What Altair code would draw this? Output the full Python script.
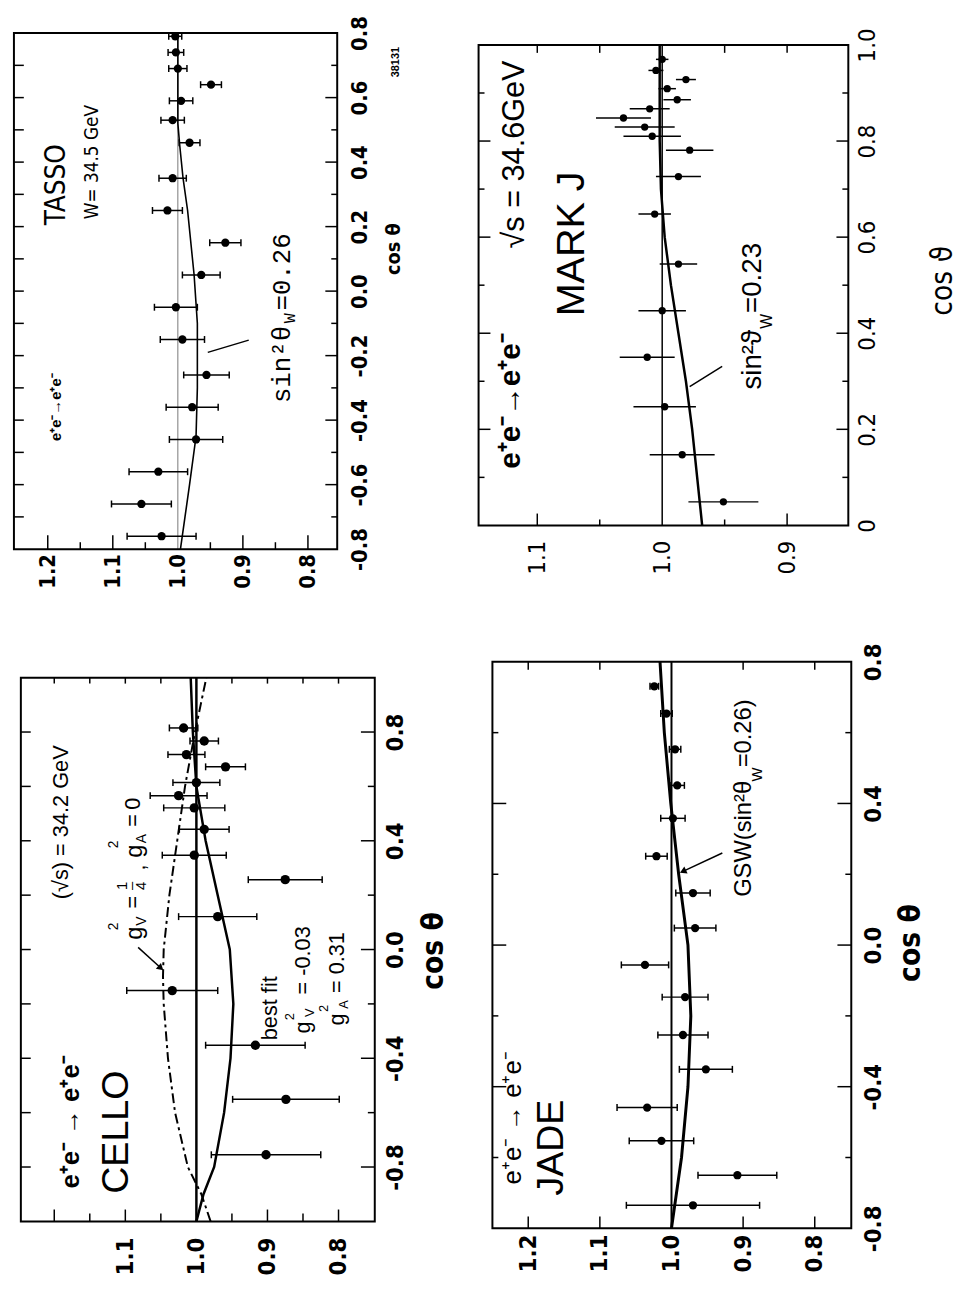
import altair as alt
import pandas as pd

NARROW = "Liberation Sans Narrow, DejaVu Sans Condensed, Liberation Sans, sans-serif"
SANS = "Liberation Sans, Arial, Helvetica, sans-serif"
MONO = "Liberation Mono, DejaVu Sans Mono, monospace"
FONTS = {"N": NARROW, "S": SANS, "M": MONO}

# ---------------- TASSO (W = 34.5 GeV) ----------------
tasso_cos = [-0.76, -0.66, -0.56, -0.46, -0.36, -0.26, -0.15, -0.05, 0.05, 0.15,
             0.25, 0.35, 0.46, 0.53, 0.59, 0.64, 0.69, 0.74, 0.79]
tasso_val = [1.025, 1.056, 1.030, 0.972, 0.978, 0.956, 0.993, 1.003, 0.964, 0.927,
             1.016, 1.008, 0.982, 1.008, 0.995, 0.949, 1.000, 1.003, 1.004]
tasso_err = [0.053, 0.046, 0.045, 0.041, 0.040, 0.035, 0.034, 0.033, 0.029, 0.024,
             0.023, 0.021, 0.016, 0.018, 0.018, 0.016, 0.014, 0.012, 0.010]
tasso_fit_cos = [-0.8, -0.7, -0.6, -0.45, -0.3, -0.1, 0.05, 0.25, 0.35, 0.45, 0.52, 0.8]
tasso_fit_val = [0.996, 0.989, 0.982, 0.972, 0.970, 0.970, 0.975, 0.985, 0.992, 0.997, 1.0, 1.0]
tasso_xlabels = [0.8, 0.9, 1.0, 1.1, 1.2]
tasso_ylabels = [-0.8, -0.6, -0.4, -0.2, 0.0, 0.2, 0.4, 0.6, 0.8]
tasso_texts = [
    ("TASSO", 1.186, 0.33, 28, "N", "normal"),
    ("W= 34.5 GeV", 1.132, 0.40, 19, "N", "normal"),
    ("e⁺e⁻→e⁺e⁻", 1.187, -0.36, 15, "S", "bold"),
    ("sin²θ =0.26", 0.84, -0.084, 26, "M", "normal"),
    ("W", 0.827, -0.084, 17, "M", "normal"),
    ("38131", 0.664, 0.71, 11, "S", "bold"),
]
tasso_pointers = [(0.954, -0.19, 0.891, -0.152)]

# ---------------- CELLO (sqrt s = 34.2 GeV) ----------------
cello_cos = [-0.755, -0.551, -0.352, -0.151, 0.121, 0.257, 0.347, 0.442, 0.521, 0.566,
             0.614, 0.672, 0.717, 0.767, 0.815]
cello_val = [0.902, 0.874, 0.917, 1.034, 0.970, 0.875, 1.003, 0.989, 1.003, 1.025,
             1.000, 0.959, 1.014, 0.989, 1.018]
cello_err = [0.077, 0.075, 0.070, 0.064, 0.055, 0.052, 0.045, 0.035, 0.043, 0.040,
             0.033, 0.028, 0.026, 0.020, 0.020]
cello_fit_cos = [-1.0, -0.9, -0.8, -0.6, -0.4, -0.2, 0.0, 0.2, 0.4, 0.6, 0.8, 1.0]
cello_fit_val = [1.0, 0.99, 0.975, 0.961, 0.952, 0.948, 0.953, 0.970, 0.987, 1.0, 1.005, 1.008]
cello_gv_cos = [-1.0, -0.9, -0.8, -0.6, -0.4, -0.2, -0.1, 0.0, 0.2, 0.4, 0.6, 0.8, 0.9, 1.0]
cello_gv_val = [0.98, 0.993, 1.012, 1.030, 1.040, 1.046, 1.047, 1.046, 1.038, 1.027,
                1.016, 1.002, 0.994, 0.986]
cello_xlabels = [0.8, 0.9, 1.0, 1.1]
cello_ylabels = [-0.8, -0.4, 0.0, 0.4, 0.8]
cello_texts = [
    ("e⁺e⁻ → e⁺e⁻", 1.177, -0.634, 26, "S", "bold"),
    ("CELLO", 1.111, -0.672, 38, "S", "normal"),
    ("(√s) = 34.2 GeV", 1.19, 0.468, 22, "S", "normal"),
    ("g", 1.086, 0.060, 24, "S", "normal"),
    ("2", 1.116, 0.085, 14, "S", "normal"),
    ("V", 1.076, 0.104, 14, "S", "normal"),
    ("=", 1.089, 0.174, 22, "S", "normal"),
    ("1", 1.105, 0.234, 15, "S", "normal"),
    ("–", 1.092, 0.234, 15, "S", "normal"),
    ("4", 1.078, 0.234, 15, "S", "normal"),
    (",", 1.082, 0.302, 22, "S", "normal"),
    ("g", 1.086, 0.362, 24, "S", "normal"),
    ("2", 1.116, 0.387, 14, "S", "normal"),
    ("A", 1.076, 0.408, 14, "S", "normal"),
    ("=", 1.089, 0.475, 22, "S", "normal"),
    ("0", 1.089, 0.536, 22, "S", "normal"),
    ("best fit", 0.896, -0.216, 22, "S", "normal"),
    ("g", 0.850, -0.287, 22, "S", "normal"),
    ("2", 0.868, -0.247, 13, "S", "normal"),
    ("V", 0.840, -0.232, 13, "S", "normal"),
    ("= -0.03", 0.850, -0.040, 22, "S", "normal"),
    ("g", 0.802, -0.257, 22, "S", "normal"),
    ("2", 0.820, -0.217, 13, "S", "normal"),
    ("A", 0.792, -0.202, 13, "S", "normal"),
    ("= 0.31", 0.802, -0.048, 22, "S", "normal"),
]
cello_pointers = [(1.082, 0.008, 1.050, -0.068)]
cello_heads = [(1.050, -0.068, 132)]

# ---------------- JADE ----------------
jade_cos = [-0.735, -0.650, -0.553, -0.459, -0.351, -0.254, -0.147, -0.056, 0.048, 0.147,
            0.251, 0.358, 0.451, 0.553, 0.654, 0.731]
jade_val = [0.970, 0.908, 1.014, 1.034, 0.952, 0.984, 0.981, 1.037, 0.967, 0.970,
            1.021, 0.998, 0.992, 0.995, 1.007, 1.024]
jade_err = [0.093, 0.055, 0.045, 0.042, 0.037, 0.035, 0.032, 0.033, 0.029, 0.024,
            0.015, 0.017, 0.010, 0.008, 0.008, 0.006]
jade_fit_cos = [-0.8, -0.6, -0.4, -0.2, 0.0, 0.2, 0.4, 0.6, 0.8]
jade_fit_val = [1.0, 0.986, 0.977, 0.973, 0.977, 0.990, 1.001, 1.010, 1.016]
jade_xlabels = [0.8, 0.9, 1.0, 1.1, 1.2]
jade_ylabels = [-0.8, -0.4, 0.0, 0.4, 0.8]
jade_texts = [
    ("e⁺e⁻ → e⁺e⁻", 1.221, -0.488, 26, "S", "normal"),
    ("JADE", 1.166, -0.572, 38, "S", "normal"),
    ("GSW(sin²θ", 0.899, 0.300, 24, "S", "normal"),
    ("W", 0.880, 0.482, 15, "S", "normal"),
    ("=0.26)", 0.899, 0.598, 24, "S", "normal"),
]
jade_pointers = [(0.929, 0.26, 0.984, 0.208)]
jade_heads = [(0.984, 0.208, 245)]

# ---------------- MARK J (sqrt s = 34.6 GeV) ----------------
markj_cos = [0.049, 0.147, 0.247, 0.350, 0.447, 0.544, 0.648, 0.726, 0.781, 0.810,
             0.829, 0.848, 0.867, 0.886, 0.909, 0.928, 0.947, 0.970]
markj_val = [0.951, 0.984, 0.998, 1.012, 1.000, 0.987, 1.006, 0.987, 0.978, 1.008,
             1.014, 1.031, 1.010, 0.988, 0.996, 0.981, 1.005, 1.000]
markj_err = [0.028, 0.026, 0.025, 0.022, 0.019, 0.015, 0.013, 0.018, 0.019, 0.023,
             0.024, 0.022, 0.016, 0.011, 0.007, 0.008, 0.006, 0.005]
markj_fit_cos = [0.0, 0.1, 0.2, 0.3, 0.4, 0.5, 0.6, 0.7, 0.8, 0.9, 1.0]
markj_fit_val = [0.968, 0.972, 0.976, 0.981, 0.987, 0.993, 0.998, 1.001, 1.002, 1.002, 1.002]
markj_xlabels = [0.9, 1.0, 1.1]
markj_ylabels = [0.0, 0.2, 0.4, 0.6, 0.8, 1.0]
markj_texts = [
    ("e⁺e⁻→e⁺e⁻", 1.121, 0.259, 30, "S", "bold"),
    ("MARK J", 1.072, 0.586, 40, "S", "normal"),
    ("√s = 34.6GeV", 1.118, 0.772, 31, "S", "normal"),
    ("sin²ϑ", 0.927, 0.345, 28, "S", "normal"),
    ("W", 0.916, 0.425, 16, "S", "normal"),
    ("=0.23", 0.927, 0.515, 28, "S", "normal"),
]
markj_pointers = [(0.952, 0.331, 0.978, 0.289)]

NEG_FIX = "replace(format(datum.value, '.1f'), '\u2212', '-')"


def build(p):
    W, H = p["W"], p["H"]          # frame (plot box) size
    lo, to = p["loff"], p["toff"]  # empty margin left of / above the box inside the cell
    CW, CH = W + lo, H + to
    xs = alt.Scale(domain=p["xdom"], range=[CW, lo], nice=False, zero=False)
    ys = alt.Scale(domain=p["ydom"], range=[CH, to], nice=False, zero=False)

    xaxis = alt.Axis(orient="bottom", values=p["xlabels"], labelExpr="format(datum.value, '.1f')",
                     labelAngle=270, labelAlign="center", labelBaseline="middle",
                     labelPadding=p["xpad"], ticks=False, tickSize=0, domain=False, grid=False,
                     labelFont=NARROW, labelFontSize=p["lsize"], labelFontWeight=p["lweight"],
                     labelColor="black", labelFlush=False, labelOverlap=False, title=None)
    yaxis = alt.Axis(orient="right", values=p["ylabels"], labelExpr=p["yexpr"],
                     labelAngle=270, labelAlign="center", labelBaseline="middle",
                     labelPadding=p["ypad"], ticks=False, tickSize=0, domain=False, grid=False,
                     labelFont=NARROW, labelFontSize=p["lsize"], labelFontWeight=p["lweight"],
                     labelColor="black", labelFlush=False, labelOverlap=False,
                     title=p["title"], titleAngle=270, titleX=p["titleX"], titleY=p["titleY"],
                     titleAlign="center", titleBaseline="middle", titleFont=NARROW,
                     titleFontSize=p["tsize"], titleFontWeight=p["lweight"], titleColor="black")

    def X(f):
        return alt.X(f, type="quantitative", scale=xs, axis=xaxis)

    def Y(f):
        return alt.Y(f, type="quantitative", scale=ys, axis=yaxis)

    layers = []
    box = pd.DataFrame({"x0": [p["xdom"][0]], "x1": [p["xdom"][1]],
                        "y0": [p["ydom"][0]], "y1": [p["ydom"][1]], "one": [1.0]})
    layers.append(alt.Chart(box).mark_rule(color=p["refcolor"], strokeWidth=p["refwidth"])
                  .encode(x=X("one"), y=Y("y0"), y2="y1"))
    for cv in p["curves"]:
        df = pd.DataFrame({"c": cv["cos"], "v": cv["val"]})
        mk = dict(color="black", strokeWidth=cv["width"])
        if "dash" in cv:
            mk["strokeDash"] = cv["dash"]
        layers.append(alt.Chart(df).mark_line(**mk).encode(x=X("v"), y=Y("c"), order="c:Q"))

    pts = pd.DataFrame({"c": p["cos"], "v": p["val"], "e": p["err"]})
    pts["lo"] = pts["v"] - pts["e"]
    pts["hi"] = pts["v"] + pts["e"]
    layers.append(alt.Chart(pts).mark_rule(color="black", strokeWidth=1.5)
                  .encode(x=X("lo"), x2="hi", y=Y("c")))
    if p["caps"]:
        caps = pd.DataFrame({"c": list(p["cos"]) * 2, "x": list(pts["lo"]) + list(pts["hi"])})
        layers.append(alt.Chart(caps).mark_tick(orient="vertical", size=7, thickness=1.5,
                                                color="black", opacity=1)
                      .encode(x=X("x"), y=Y("c")))

    for edge, vals, L in p["ticks"]:
        df = pd.DataFrame({"t": vals})
        m = alt.Chart(df).mark_rule(color="black", strokeWidth=1.5)
        if edge == "bottom":
            m = m.encode(x=X("t"), y=alt.value(CH), y2=alt.value(CH - L))
        elif edge == "top":
            m = m.encode(x=X("t"), y=alt.value(to), y2=alt.value(to + L))
        elif edge == "left":
            m = m.encode(y=Y("t"), x=alt.value(lo), x2=alt.value(lo + L))
        else:
            m = m.encode(y=Y("t"), x=alt.value(CW), x2=alt.value(CW - L))
        layers.append(m)

    for (v1, c1, v2, c2) in p.get("pointers", []):
        df = pd.DataFrame({"v": [v1], "c": [c1], "v2": [v2], "c2": [c2]})
        layers.append(alt.Chart(df).mark_rule(color="black", strokeWidth=1.5)
                      .encode(x=X("v"), x2="v2", y=Y("c"), y2="c2"))
    for (v, c, ang) in p.get("heads", []):
        df = pd.DataFrame({"v": [v], "c": [c]})
        layers.append(alt.Chart(df).mark_point(shape="triangle-up", filled=True, color="black",
                                               opacity=1, size=60, angle=ang)
                      .encode(x=X("v"), y=Y("c")))

    for (t, v, c, size, fk, wt) in p["texts"]:
        df = pd.DataFrame({"t": [t], "v": [v], "c": [c]})
        layers.append(alt.Chart(df).mark_text(angle=270, align="center", baseline="middle",
                                              font=FONTS[fk], fontSize=size, fontWeight=wt,
                                              color="black")
                      .encode(x=X("v"), y=Y("c"), text="t:N"))

    layers.append(alt.Chart(pts).mark_circle(color="black", opacity=1, size=p["psize"])
                  .encode(x=X("v"), y=Y("c")))
    # plot frame drawn through the scales at the domain limits
    layers.append(alt.Chart(box).mark_rect(filled=False, stroke="black", strokeWidth=2)
                  .encode(x=X("x0"), x2="x1", y=Y("y0"), y2="y1"))
    return alt.layer(*layers).properties(width=CW, height=CH)


tasso = build(dict(
    W=327, H=522, loff=0, toff=0, xdom=[0.755, 1.252], ydom=[-0.8, 0.8],
    refcolor="#777777", refwidth=1,
    curves=[dict(cos=tasso_fit_cos, val=tasso_fit_val, width=1.6)],
    cos=tasso_cos, val=tasso_val, err=tasso_err, caps=True, psize=70,
    ticks=[("bottom", [0.8, 0.9, 1.1, 1.2], 14), ("bottom", [0.85, 0.95, 1.05, 1.15], 7),
           ("left", [-0.7, -0.6, -0.5, -0.4, -0.3, -0.2, -0.1, 0.0, 0.1, 0.2, 0.3, 0.4, 0.5,
                     0.6, 0.7], 10),
           ("right", [-0.6, -0.4, -0.2, 0.0, 0.2, 0.4, 0.6], 12),
           ("right", [-0.7, -0.5, -0.3, -0.1, 0.1, 0.3, 0.5, 0.7], 6)],
    pointers=tasso_pointers, texts=tasso_texts,
    xlabels=tasso_xlabels, ylabels=tasso_ylabels, yexpr=NEG_FIX, xpad=22, ypad=23,
    lsize=22, lweight="bold", title="cos θ", titleX=57, titleY=218, tsize=20))

markj = build(dict(
    W=374, H=486, loff=0, toff=12, xdom=[0.851, 1.147], ydom=[0.0, 1.0],
    refcolor="black", refwidth=1.5,
    curves=[dict(cos=markj_fit_cos, val=markj_fit_val, width=2.5)],
    cos=markj_cos, val=markj_val, err=markj_err, caps=False, psize=55,
    ticks=[("bottom", [0.9, 1.1], 12), ("bottom", [0.95, 1.05], 6),
           ("top", [0.9, 0.95, 1.05, 1.1], 8),
           ("left", [0.2, 0.4, 0.6, 0.8], 12), ("left", [0.1, 0.3, 0.5, 0.7, 0.9], 6),
           ("right", [0.2, 0.4, 0.6, 0.8], 12), ("right", [0.1, 0.3, 0.5, 0.7, 0.9], 6)],
    pointers=markj_pointers, texts=markj_texts,
    xlabels=markj_xlabels, ylabels=markj_ylabels,
    yexpr="datum.value == 0 ? '0' : format(datum.value, '.1f')", xpad=32, ypad=20,
    lsize=24, lweight="normal", title="cos ϑ", titleX=95, titleY=250, tsize=30))

cello = build(dict(
    W=358, H=550, loff=7, toff=16, xdom=[0.749, 1.247], ydom=[-1.0, 1.0],
    refcolor="black", refwidth=2.5,
    curves=[dict(cos=cello_fit_cos, val=cello_fit_val, width=2.5),
            dict(cos=cello_gv_cos, val=cello_gv_val, width=2, dash=[10, 4, 3, 4])],
    cos=cello_cos, val=cello_val, err=cello_err, caps=True, psize=90,
    ticks=[("bottom", [0.8, 0.9, 1.1, 1.2], 12), ("bottom", [0.85, 0.95, 1.05, 1.15], 8),
           ("top", [0.8, 0.85, 0.9, 0.95, 1.05, 1.1, 1.15, 1.2], 6),
           ("left", [-0.8, -0.6, -0.4, -0.2, 0.0, 0.2, 0.4, 0.6, 0.8], 10),
           ("right", [-0.8, -0.4, 0.0, 0.4, 0.8], 14), ("right", [-0.6, -0.2, 0.2, 0.6], 7)],
    pointers=cello_pointers, heads=cello_heads, texts=cello_texts,
    xlabels=cello_xlabels, ylabels=cello_ylabels, yexpr=NEG_FIX, xpad=35, ypad=21,
    lsize=24, lweight="bold", title="cos θ", titleX=60, titleY=292, tsize=30))

jade = build(dict(
    W=363, H=573, loff=14, toff=0, xdom=[0.749, 1.25], ydom=[-0.8, 0.8],
    refcolor="black", refwidth=2,
    curves=[dict(cos=jade_fit_cos, val=jade_fit_val, width=3)],
    cos=jade_cos, val=jade_val, err=jade_err, caps=True, psize=70,
    ticks=[("bottom", [0.8, 0.9, 1.1, 1.2], 12), ("top", [0.8, 0.9, 1.1, 1.2], 8),
           ("left", [-0.4, 0.0, 0.4], 14), ("left", [-0.6, -0.2, 0.2, 0.6], 6),
           ("right", [-0.4, 0.0, 0.4], 14), ("right", [-0.6, -0.2, 0.2, 0.6], 6)],
    pointers=jade_pointers, heads=jade_heads, texts=jade_texts,
    xlabels=jade_xlabels, ylabels=jade_ylabels, yexpr=NEG_FIX, xpad=25, ypad=23,
    lsize=24, lweight="bold", title="cos θ", titleX=60, titleY=284, tsize=30))

chart = (alt.concat(tasso, markj, cello, jade, columns=2,
                    spacing={"row": 114, "column": 105}, bounds="flush")
         .properties(padding={"left": 5, "top": 0, "right": 5, "bottom": 5})
         .configure_view(strokeOpacity=0)
         .configure_axis(labelColor="black", titleColor="black"))

chart.save("out.html", embed_options={"renderer": "svg", "actions": False})
